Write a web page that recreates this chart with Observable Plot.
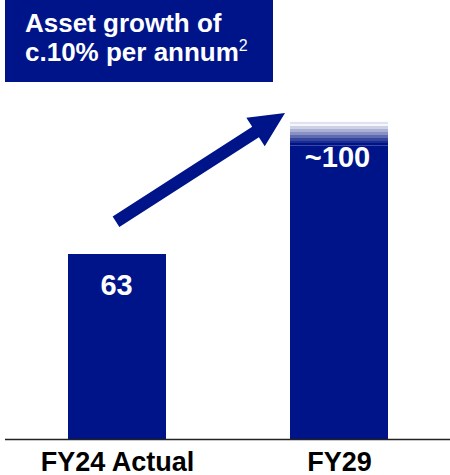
<!DOCTYPE html>
<html>
<head>
<meta charset="utf-8">
<script src="https://cdn.jsdelivr.net/npm/d3@7"></script>
<script src="https://cdn.jsdelivr.net/npm/@observablehq/plot@0.6"></script>
<style>
  html, body { margin: 0; padding: 0; background: #fff; }
  #wrap { position: relative; width: 450px; height: 475px; font-family: "Liberation Sans", Arial, sans-serif; }
  #title {
    position: absolute; left: 5px; top: 0; width: 268px; height: 82px;
    background: #001489; color: #fff; box-sizing: border-box;
    padding: 9px 0 0 20px; font-weight: bold; font-size: 26px; line-height: 29px;
  }
  #title sup { font-weight: normal; font-size: 16px; vertical-align: 0; position: relative; top: -10px; }
</style>
</head>
<body>
<div id="wrap">
  <div id="chart"></div>
  <div id="title">Asset growth of<br>c.10% per annum<sup>2</sup></div>
</div>
<script>
const categories = ["FY24 Actual", "FY29"];
const values = [63, 100];
const valueLabels = ["63", "~100"];
const fadeFrom = 100;   // faded top of the FY29 bar
const fadeTo = 108;
const arrowFromValue = 74;
const arrowToValue = 111;

const navy = "#001489";
const data = categories.map((c, i) => ({cat: c, value: values[i], label: valueLabels[i]}));
const fade = [{cat: categories[1], from: fadeFrom, to: fadeTo}];

const plot = Plot.plot({
  width: 450,
  height: 475,
  marginLeft: 5,
  marginRight: 0,
  marginTop: 116,
  marginBottom: 36,
  x: {domain: categories, paddingInner: 0.56, paddingOuter: 0.28, axis: null},
  y: {domain: [0, 110], axis: null},
  style: {fontFamily: "'Liberation Sans', Arial, sans-serif", background: "transparent"},
  marks: [
    Plot.barY(data, {x: "cat", y: "value", fill: navy}),
    Plot.barY(fade, {x: "cat", y1: "from", y2: "to", fill: "url(#fadeGrad)"}),
    Plot.text(data.slice(0, 1), {x: "cat", y: "value", text: "label", lineAnchor: "bottom", dy: 40, dx: -1, fill: "#fff", fontSize: 29, fontWeight: "bold"}),
    Plot.text(data.slice(1), {x: "cat", y: "value", text: "label", lineAnchor: "bottom", dy: 21, dx: -2, fill: "#fff", fontSize: 29, fontWeight: "bold"}),
    Plot.ruleY([0], {stroke: "#222", strokeWidth: 1.6}),
    Plot.text(categories, {x: d => d, text: d => d, frameAnchor: "bottom", lineAnchor: "bottom", dy: 31, fill: "#000", fontSize: 27, fontWeight: "bold"})
  ]
});
document.getElementById("chart").appendChild(plot);

// gradient for the faded top of FY29 bar
const svg = d3.select(plot);
const grad = svg.insert("defs", ":first-child").append("linearGradient")
  .attr("id", "fadeGrad").attr("x1", 0).attr("y1", 0).attr("x2", 0).attr("y2", 1);
const stops = [
  [0.00, "#dfe2ef"], [0.08, "#dfe2ef"], [0.08, "#f6f7fb"], [0.19, "#f6f7fb"],
  [0.19, "#cdd1e6"], [0.30, "#cdd1e6"], [0.30, "#aab1d5"], [0.42, "#aab1d5"],
  [0.42, "#8891c4"], [0.55, "#8891c4"], [0.55, "#5f6bb0"], [0.68, "#5f6bb0"],
  [0.68, "#36459d"], [0.82, "#36459d"], [0.82, "#1a2b92"], [0.92, "#1a2b92"],
  [0.92, navy], [1.0, navy]
];
stops.forEach(([o, c]) => grad.append("stop").attr("offset", o).attr("stop-color", c));

// growth arrow, positioned from the scales
const xs = plot.scale("x"), ys = plot.scale("y");
const bw = xs.bandwidth;
const tail = [xs.apply(categories[0]) + bw / 2 - 1, ys.apply(arrowFromValue)];
const tip = [xs.apply(categories[1]) - 5, ys.apply(arrowToValue)];
const dx = tip[0] - tail[0], dy = tip[1] - tail[1];
const L = Math.hypot(dx, dy);
const u = [dx / L, dy / L], n = [-u[1], u[0]];
const sw = 6.2, hl = 35, hw = 17;
const neck = [tip[0] - u[0] * hl, tip[1] - u[1] * hl];
const pt = (p, k) => [p[0] + n[0] * k, p[1] + n[1] * k];
const poly = [pt(tail, sw), pt(neck, sw), pt(neck, hw), tip, pt(neck, -hw), pt(neck, -sw), pt(tail, -sw)];
svg.append("path").attr("d", "M" + poly.map(p => p.join(",")).join("L") + "Z").attr("fill", navy);
</script>
</body>
</html>
